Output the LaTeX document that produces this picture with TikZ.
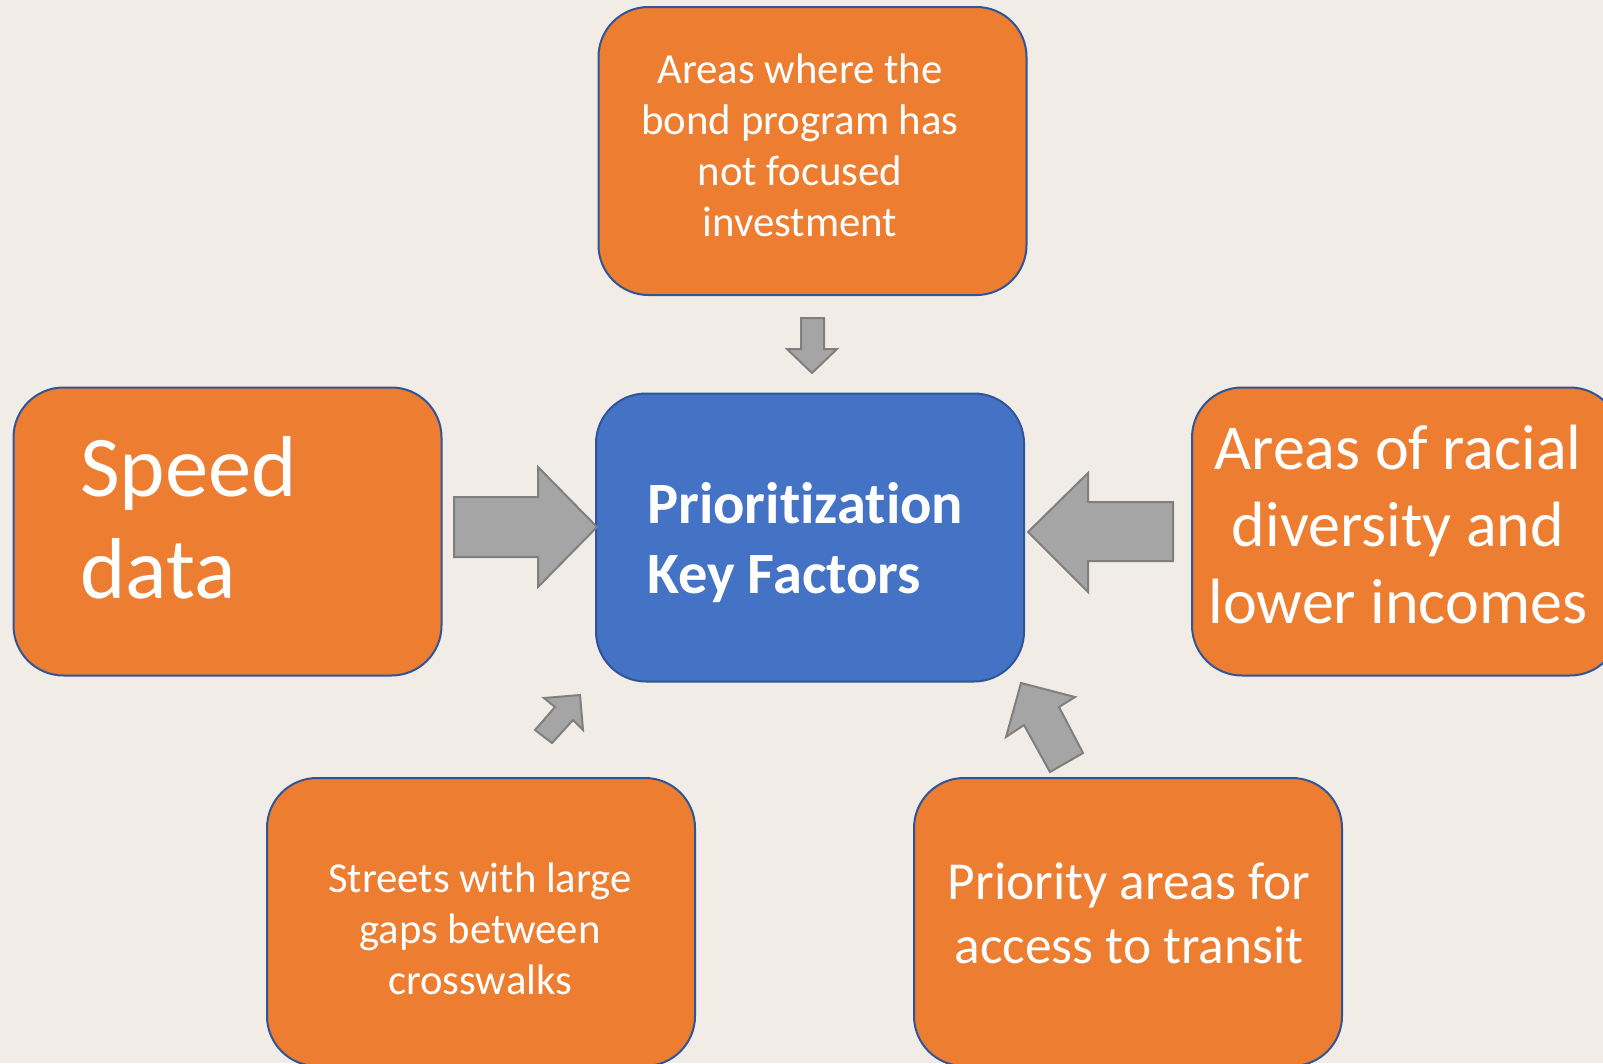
\documentclass[tikz,border=0pt]{standalone}
\usepackage{fontspec}
\setmainfont{Carlito}[Ligatures=NoCommon]
\definecolor{bg}{HTML}{F1ECE6}
\definecolor{boxorange}{HTML}{ED7D31}
\definecolor{boxblue}{HTML}{4472C4}
\definecolor{boxborder}{HTML}{2F5597}
\definecolor{arrowfill}{HTML}{A5A5A5}
\definecolor{arrowline}{HTML}{7F7F7F}
\begin{document}
\begin{tikzpicture}[x=1pt,y=-1pt,
  card/.style={draw=boxborder, line width=2pt, rounded corners=50pt,
    minimum width=428pt, minimum height=288pt, inner sep=0pt, fill=boxorange},
  keycard/.style={card, fill=boxblue},
  txt/.style={text=white, inner sep=0pt},
  blockarrow/.style={fill=arrowfill, draw=arrowline, line width=2pt, line join=miter}]
\path[use as bounding box, fill=bg] (0,0) rectangle (1603,1063);
\clip (0,0) rectangle (1603,1063);

% boxes
\node[card] (top) at (812.5,151) {};
\node[keycard] (key) at (810,537.5) {};
\node[card] (speed) at (227.5,531.5) {};
\node[card] (racial) at (1406,531.5) {};
\node[card] (gaps) at (481,922) {};
\node[card] (transit) at (1128,922) {};

% texts
\node[txt, align=center, font=\fontsize{42.8}{51}\selectfont] (toptext) at (800,145)
  {Areas where the\\bond program has\\not focused\\investment};
\node[txt, align=left, anchor=west, font=\fontsize{58.5}{70}\selectfont\bfseries] (keytext) at (647,543)
  {Prioritization\\Key Factors};
\node[txt, align=left, anchor=west, font=\fontsize{86.5}{102}\selectfont] (speedtext) at (80,518)
  {Speed\\data};
\node[txt, align=center, font=\fontsize{64}{77}\selectfont] (racialtext) at (1398,525)
  {Areas of racial\\diversity and\\lower incomes};
\node[txt, align=center, font=\fontsize{42.7}{51}\selectfont] (gapstext) at (480,929)
  {Streets with large\\gaps between\\crosswalks};
\node[txt, align=center, font=\fontsize{53.4}{64}\selectfont] (transittext) at (1129,913)
  {Priority areas for\\access to transit};

% block arrows
\draw[blockarrow] (801,318) -- (824,318) -- (824,349) -- (837,349) -- (812,373)
  -- (787,349) -- (801,349) -- cycle;
\draw[blockarrow] (454,497) -- (538,497) -- (538,467) -- (597,527) -- (538,587)
  -- (538,557) -- (454,557) -- cycle;
\draw[blockarrow] (1173,502) -- (1088,502) -- (1088,473) -- (1028,532) -- (1088,592)
  -- (1088,561) -- (1173,561) -- cycle;
\draw[blockarrow] (580,695) -- (583,730) -- (573,720) -- (552,743) -- (535,730)
  -- (555,707) -- (544,698) -- cycle;
\draw[blockarrow] (1021,683) -- (1075,697) -- (1059,707) -- (1083,753) -- (1050,772)
  -- (1024,725) -- (1006,737) -- cycle;
\end{tikzpicture}
\end{document}
